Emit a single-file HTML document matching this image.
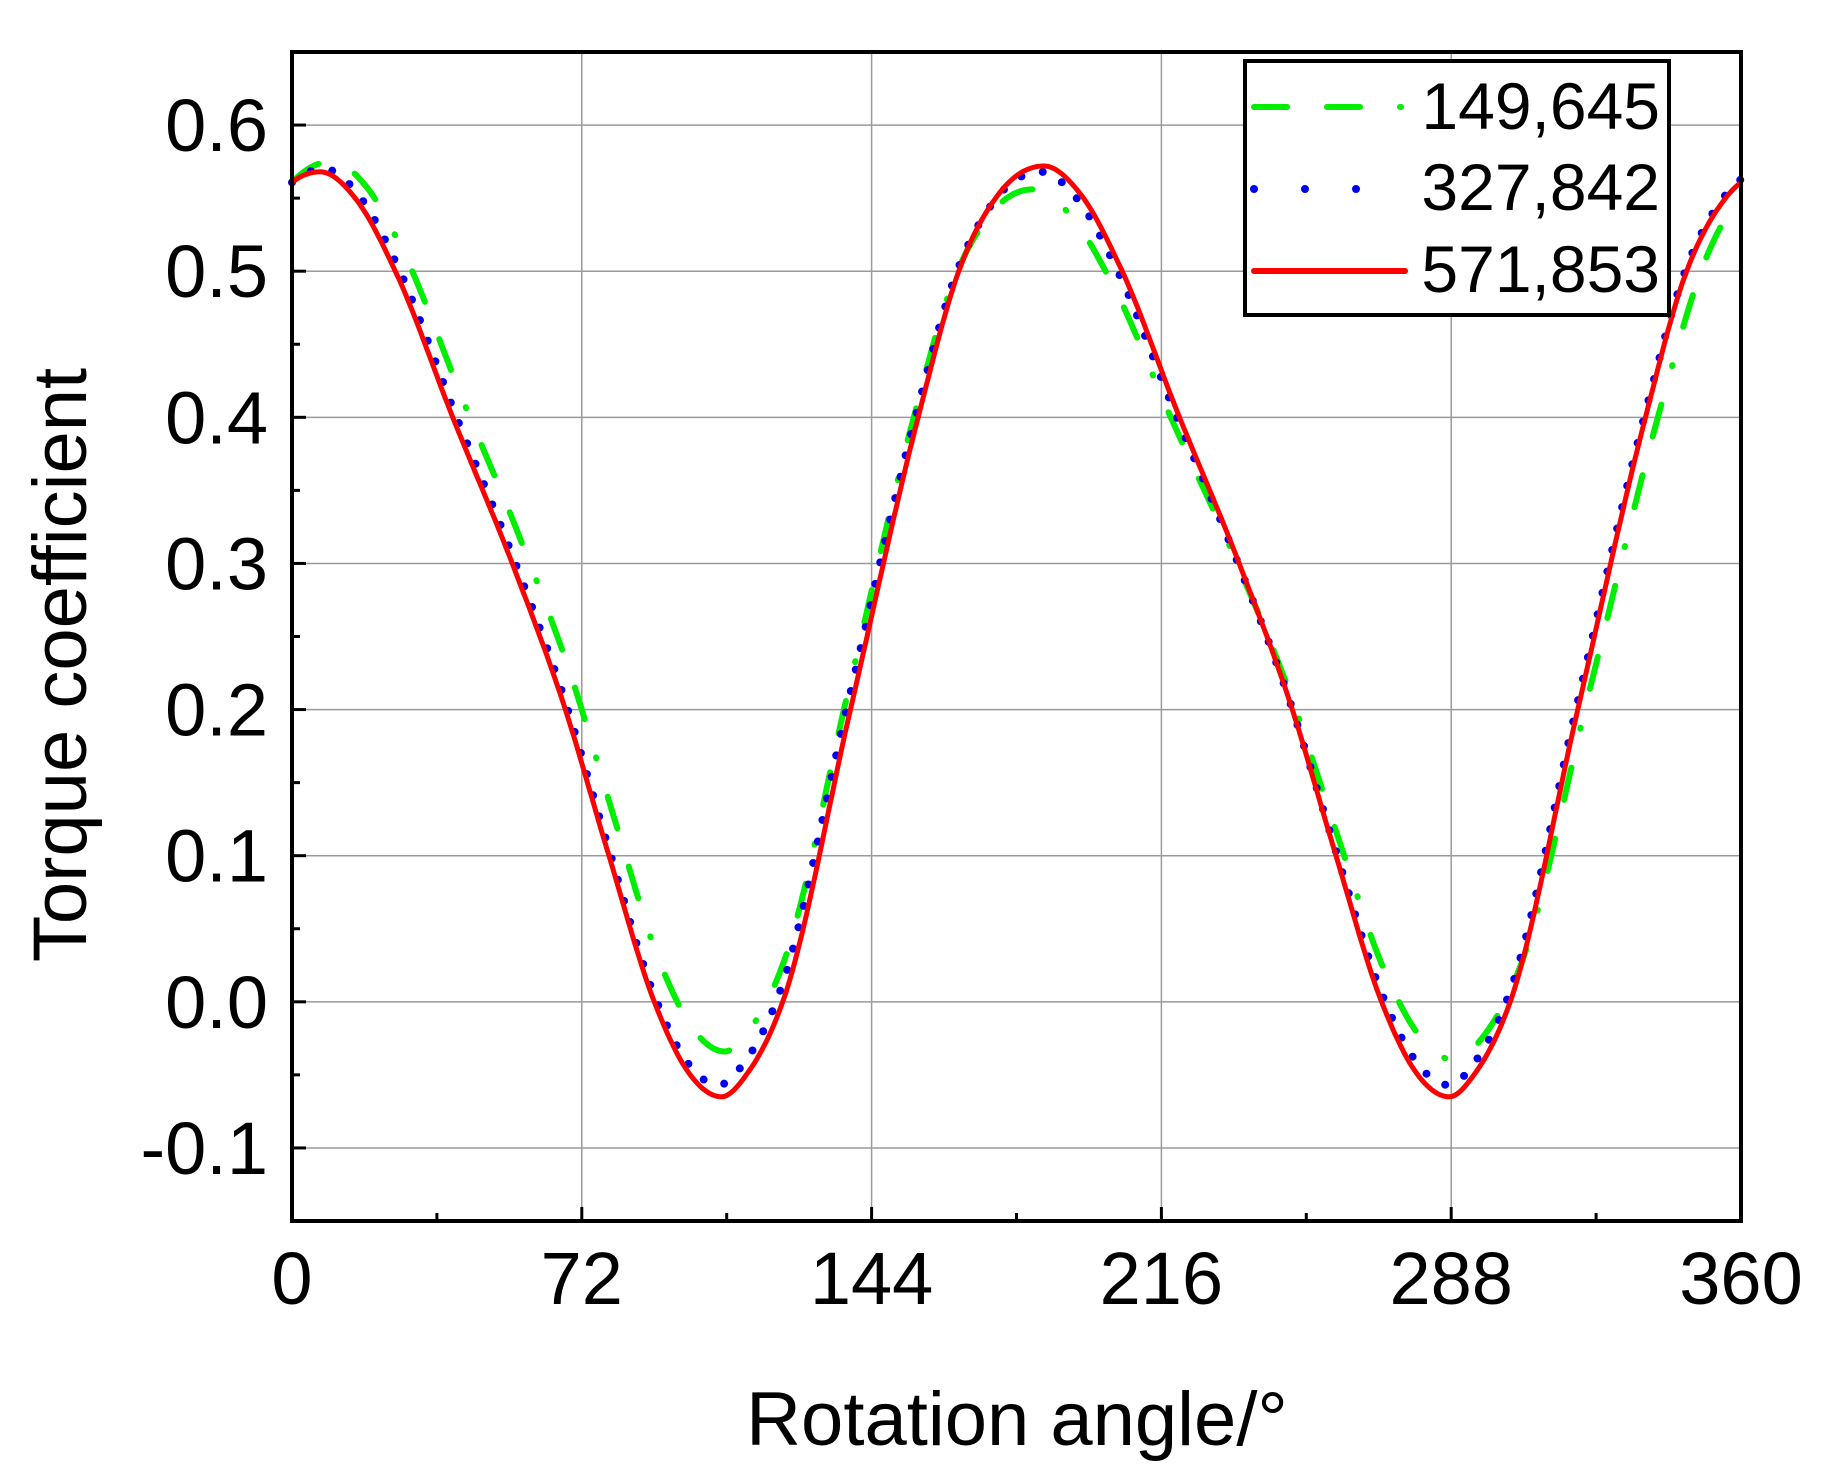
<!DOCTYPE html>
<html><head><meta charset="utf-8"><style>
html,body{margin:0;padding:0;background:#fff;}
svg text{font-family:"Liberation Sans",Arial,sans-serif;fill:#000;}
</style></head><body>
<svg id="s" width="1833" height="1471" viewBox="0 0 1833 1471" xmlns="http://www.w3.org/2000/svg">
<g id="grid" stroke="#9a9a9a" stroke-width="1.5"></g>
<g id="curves" fill="none"></g>
<g id="ticks" stroke="#000" stroke-width="3"></g>
<rect x="292" y="52" width="1449" height="1169" fill="none" stroke="#000" stroke-width="4"/>
<g id="labels" font-size="74"></g>
<text x="1017" y="1445" font-size="76" text-anchor="middle">Rotation angle/°</text>
<text transform="translate(86,665) rotate(-90)" font-size="76" text-anchor="middle">Torque coefficient</text>
<rect x="1245" y="61" width="424" height="254" fill="#fff" stroke="#000" stroke-width="4"/>
<line x1="1254" y1="107" x2="1405" y2="107" stroke="#00ee00" stroke-width="6" stroke-linecap="round" stroke-dasharray="33 40 33 40 1 60"/>
<line x1="1254" y1="189" x2="1405" y2="189" stroke="#0000ee" stroke-width="8" stroke-linecap="round" stroke-dasharray="0 51"/>
<line x1="1254" y1="271" x2="1405" y2="271" stroke="#ff0000" stroke-width="6" stroke-linecap="round"/>
<text x="1660" y="129" font-size="66" text-anchor="end">149,645</text>
<text x="1660" y="210" font-size="66" text-anchor="end">327,842</text>
<text x="1660" y="292" font-size="66" text-anchor="end">571,853</text>
</svg>
<script>
var L=292,R=1741,T=52,B=1221;
function X(a){return L+(a/360)*(R-L);}
function Y(v){return B-(v+0.15)/0.8*(B-T);}
var ns="http://www.w3.org/2000/svg";
function el(p,tag,at,txt){var e=document.createElementNS(ns,tag);for(var k in at)e.setAttribute(k,at[k]);if(txt!==undefined)e.textContent=txt;document.getElementById(p).appendChild(e);}
for(var a=72;a<360;a+=72)el('grid','line',{x1:X(a),y1:T,x2:X(a),y2:B});
for(var i=-1;i<=6;i++){var y=Y(i/10);el('grid','line',{x1:L,y1:y,x2:R,y2:y});}
for(var a=36;a<360;a+=36){var mj=(a%72==0);el('ticks','line',{x1:X(a),y1:B,x2:X(a),y2:B-(mj?14:8)});}
for(var k=-3;k<=13;k++){var v=k*0.05;var y=Y(v);if(y<T+2||y>B-2)continue;var mj=(k%2==0);el('ticks','line',{x1:L,y1:y,x2:L+(mj?14:8),y2:y});}
for(var a=0;a<=360;a+=72)el('labels','text',{x:X(a),y:1304,'text-anchor':'middle'},String(a));
for(var i=-1;i<=6;i++)el('labels','text',{x:268,y:Y(i/10)+26,'text-anchor':'end'},(i/10).toFixed(1));
function mono(xs,ys){var n=xs.length,d=[],m=[];for(var i=0;i<n-1;i++)d.push((ys[i+1]-ys[i])/(xs[i+1]-xs[i]));
 m[0]=0;m[n-1]=0;for(var i=1;i<n-1;i++){m[i]=(d[i-1]*(xs[i+1]-xs[i])+d[i]*(xs[i]-xs[i-1]))/(xs[i+1]-xs[i-1]);}
 for(var i=0;i<n-1;i++){if(d[i]>0){var a=m[i]/d[i],b=m[i+1]/d[i],s=a*a+b*b;if(s>9){var t=3/Math.sqrt(s);m[i]=t*a*d[i];m[i+1]=t*b*d[i];}}}
 return function(x){var i=0;while(i<n-2&&x>xs[i+1])i++;var h=xs[i+1]-xs[i],t=(x-xs[i])/h;var t2=t*t,t3=t2*t;
  return (2*t3-3*t2+1)*ys[i]+(t3-2*t2+t)*h*m[i]+(-2*t3+3*t2)*ys[i+1]+(t3-t2)*h*m[i+1];};}
var DN=mono([0,.09,.19,.33,.48,.61,.72,.835,.92,1],[0,.03,.11,.265,.425,.58,.74,.9,.975,1]);
var UP=mono([0,.08,.19,.4,.61,.736,.86,1],[0,.025,.102,.416,.73,.887,.97,1]);
function curve(kp){var d='';for(var a=0;a<=360;a+=0.5){var j=0;while(kp[j+1][0]<a)j++;var p=kp[j],q=kp[j+1];var t=(a-p[0])/(q[0]-p[0]);var s=(q[1]<p[1])?DN(t):UP(t);var v=p[1]+(q[1]-p[1])*s;d+=(a==0?'M':'L')+X(a).toFixed(1)+','+Y(v).toFixed(1);}return d;}
var g=[[-70,-0.04],[10,0.575],[107.5,-0.034],[184,0.556],[289,-0.04],[373,0.575]];
var b=[[-72,-0.055],[8,0.57],[106,-0.057],[186,0.568],[287.5,-0.057],[367,0.57]];
var r=[[-72.5,-0.065],[7,0.568],[106.7,-0.065],[186.8,0.572],[287.5,-0.065],[367,0.568]];
el('curves','path',{d:curve(g),stroke:'#00ee00','stroke-width':6,'stroke-dasharray':'33 40 33 40 1 40','stroke-linecap':'round'});
el('curves','path',{d:curve(b),stroke:'#0000ee','stroke-width':8,'stroke-dasharray':'0 22','stroke-linecap':'round'});
el('curves','path',{d:curve(r),stroke:'#ff0000','stroke-width':5});
</script>
</body></html>
